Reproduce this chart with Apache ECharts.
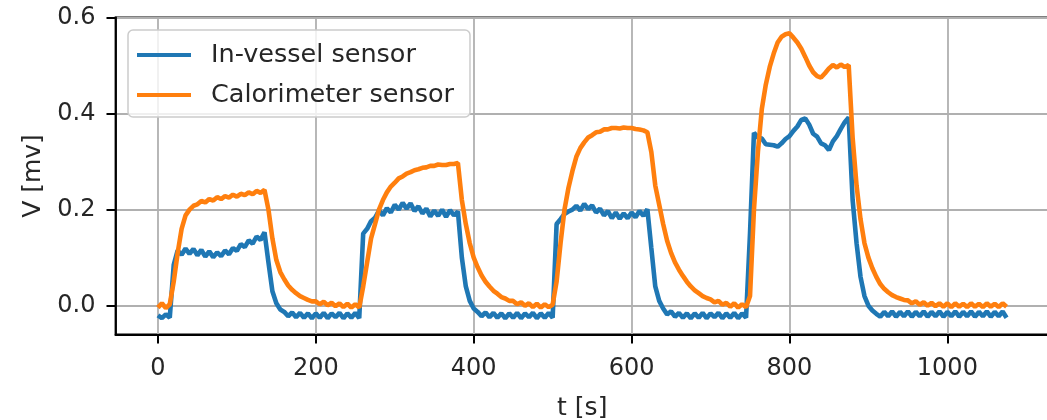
<!DOCTYPE html>
<html><head><meta charset="utf-8">
<script src="https://cdn.jsdelivr.net/npm/echarts@6/dist/echarts.min.js"></script>
<style>html,body{margin:0;padding:0;background:#fff}#c{width:1047px;height:420px}</style>
</head><body><div id="c"></div>
<script>
const time = [
0,5,10,15,20,25,30,35,40,45,50,55,60,65,70,75,80,85,90,95,
100,105,110,115,120,125,130,135,140,145,150,155,160,165,170,175,180,185,190,195,
200,205,210,215,220,225,230,235,240,245,250,255,260,265,270,275,280,285,290,295,
300,305,310,315,320,325,330,335,340,345,350,355,360,365,370,375,380,385,390,395,
400,405,410,415,420,425,430,435,440,445,450,455,460,465,470,475,480,485,490,495,
500,505,510,515,520,525,530,535,540,545,550,555,560,565,570,575,580,585,590,595,
600,605,610,615,620,625,630,635,640,645,650,655,660,665,670,675,680,685,690,695,
700,705,710,715,720,725,730,735,740,745,750,755,760,765,770,775,780,785,790,795,
800,805,810,815,820,825,830,835,840,845,850,855,860,865,870,875,880,885,890,895,
900,905,910,915,920,925,930,935,940,945,950,955,960,965,970,975,980,985,990,995,
1000,1005,1010,1015,1020,1025,1030,1035,1040,1045,1050,1055,1060,1065,1070,1075
];
const inVessel = [
-0.020,-0.026,-0.018,-0.025,0.085,0.115,0.106,0.119,0.108,0.118,
0.105,0.116,0.102,0.113,0.101,0.111,0.103,0.115,0.107,0.120,
0.114,0.128,0.122,0.136,0.129,0.144,0.137,0.153,0.090,0.030,
0.005,-0.008,-0.013,-0.022,-0.014,-0.024,-0.015,-0.025,-0.016,-0.026,
-0.016,-0.025,-0.015,-0.026,-0.016,-0.024,-0.015,-0.026,-0.016,-0.025,
-0.015,-0.026,0.150,0.160,0.176,0.183,0.198,0.188,0.203,0.194,
0.210,0.200,0.214,0.202,0.213,0.197,0.207,0.192,0.202,0.186,
0.198,0.187,0.200,0.185,0.199,0.188,0.196,0.100,0.040,0.010,
-0.006,-0.013,-0.022,-0.014,-0.024,-0.015,-0.025,-0.016,-0.026,-0.016,
-0.025,-0.015,-0.026,-0.016,-0.024,-0.015,-0.026,-0.016,-0.025,-0.015,
-0.025,0.170,0.180,0.191,0.196,0.200,0.208,0.198,0.212,0.201,
0.209,0.194,0.202,0.188,0.197,0.182,0.194,0.181,0.192,0.182,
0.194,0.184,0.197,0.187,0.201,0.120,0.040,0.010,-0.006,-0.018,
-0.012,-0.023,-0.015,-0.025,-0.016,-0.026,-0.016,-0.025,-0.015,-0.026,
-0.016,-0.024,-0.015,-0.026,-0.016,-0.025,-0.015,-0.026,-0.016,-0.025,
0.150,0.360,0.350,0.348,0.336,0.335,0.334,0.331,0.338,0.347,
0.353,0.364,0.373,0.387,0.390,0.377,0.358,0.352,0.338,0.334,
0.324,0.342,0.353,0.368,0.382,0.392,0.220,0.130,0.060,0.020,
0.000,-0.010,-0.017,-0.023,-0.013,-0.022,-0.012,-0.023,-0.013,-0.022,
-0.012,-0.023,-0.013,-0.022,-0.012,-0.023,-0.013,-0.022,-0.012,-0.023,
-0.013,-0.022,-0.012,-0.023,-0.013,-0.022,-0.012,-0.023,-0.013,-0.022,
-0.012,-0.023,-0.013,-0.022,-0.012,-0.025
];
const calorimeter = [
-0.004,0.005,-0.005,0.003,0.050,0.110,0.160,0.188,0.200,0.208,
0.211,0.218,0.215,0.222,0.219,0.226,0.222,0.228,0.225,0.231,
0.227,0.233,0.230,0.236,0.232,0.239,0.235,0.241,0.200,0.140,
0.095,0.070,0.055,0.042,0.033,0.026,0.020,0.016,0.012,0.009,
0.009,0.003,0.008,0.001,0.006,-0.001,0.005,-0.003,0.004,-0.004,
0.003,-0.004,0.040,0.090,0.140,0.170,0.200,0.220,0.236,0.248,
0.256,0.265,0.269,0.275,0.278,0.282,0.284,0.287,0.288,0.291,
0.291,0.294,0.293,0.293,0.295,0.295,0.297,0.220,0.170,0.130,
0.100,0.080,0.063,0.050,0.040,0.031,0.025,0.018,0.015,0.010,
0.010,0.003,0.007,0.000,0.005,-0.003,0.004,-0.004,0.003,-0.003,
0.002,0.050,0.130,0.200,0.245,0.280,0.310,0.328,0.340,0.350,
0.355,0.361,0.362,0.367,0.367,0.370,0.370,0.369,0.371,0.370,
0.370,0.368,0.367,0.365,0.361,0.320,0.250,0.210,0.170,0.135,
0.110,0.090,0.075,0.062,0.050,0.040,0.032,0.026,0.020,0.016,
0.013,0.007,0.010,0.002,0.006,-0.002,0.005,-0.004,0.003,-0.003,
0.020,0.200,0.320,0.410,0.460,0.497,0.525,0.548,0.560,0.565,
0.567,0.558,0.548,0.535,0.518,0.500,0.486,0.478,0.475,0.484,
0.494,0.501,0.496,0.502,0.497,0.501,0.350,0.250,0.180,0.130,
0.100,0.078,0.060,0.045,0.035,0.028,0.022,0.018,0.015,0.012,
0.011,0.005,0.009,0.002,0.007,0.000,0.006,-0.001,0.005,-0.002,
0.005,-0.003,0.005,-0.002,0.004,-0.003,0.005,-0.002,0.004,-0.003,
0.005,-0.002,0.004,-0.003,0.005,-0.002
];
const seriesNames = ['In-vessel sensor', 'Calorimeter sensor'];
const xTicks = [0, 200, 400, 600, 800, 1000];
const yTicks = [0, 0.2, 0.4, 0.6];
const xTitle = 't [s]';
const yTitle = 'V [mv]';

const FONT = 'DejaVu Sans';
const TXT = '#262626';
const chart = echarts.init(document.getElementById('c'), null, {renderer: 'canvas'});
chart.setOption({
  animation: false,
  backgroundColor: '#ffffff',
  grid: {left: 115.5, top: 17.5, right: -2, bottom: 85.5, show: true, outerBoundsMode: 'none',
         borderColor: '#000', borderWidth: 1.8, backgroundColor: 'transparent'},
  legend: {
    orient: 'vertical', left: 128, top: 30,
    itemWidth: 54, itemHeight: 4, icon: 'rect', itemGap: 10,
    padding: [10, 16, 7, 9],
    backgroundColor: 'rgba(255,255,255,0.8)', borderColor: '#cccccc', borderWidth: 1.5, borderRadius: 5,
    textStyle: {fontSize: 25.5, fontFamily: FONT, color: TXT, lineHeight: 30, padding: [0, 0, 0, 15]},
    data: seriesNames
  },
  xAxis: {
    type: 'value', min: -53.75, max: 1128.75,
    name: xTitle, nameLocation: 'middle', nameGap: 61,
    nameTextStyle: {fontSize: 25, fontFamily: FONT, color: TXT},
    axisLine: {show: true, onZero: false, lineStyle: {color: '#000', width: 1.8}},
    axisTick: {show: true, inside: false, customValues: xTicks, length: 9, lineStyle: {color: '#000', width: 2}},
    axisLabel: {customValues: xTicks, margin: 22, fontSize: 24, fontFamily: FONT, color: TXT,
                formatter: v => String(v)},
    splitLine: {show: true, lineStyle: {color: '#b0b0b0', width: 1.8}}
  },
  yAxis: {
    type: 'value', min: -0.06, max: 0.6,
    name: yTitle, nameLocation: 'middle', nameGap: 63,
    nameTextStyle: {fontSize: 25, fontFamily: FONT, color: TXT},
    axisLine: {show: true, onZero: false, lineStyle: {color: '#000', width: 1.8}},
    axisTick: {show: true, inside: false, customValues: yTicks, length: 9, lineStyle: {color: '#000', width: 2}},
    axisLabel: {customValues: yTicks, margin: 20, fontSize: 24, fontFamily: FONT, color: TXT,
                formatter: v => v.toFixed(1)},
    splitLine: {show: true, lineStyle: {color: '#b0b0b0', width: 1.8}}
  },
  series: [
    {name: seriesNames[0], type: 'line', showSymbol: false, color: '#1f77b4',
     lineStyle: {width: 4.6}, data: time.map((t, i) => [t, inVessel[i]])},
    {name: seriesNames[1], type: 'line', showSymbol: false, color: '#ff7f0e',
     lineStyle: {width: 4.6}, data: time.map((t, i) => [t, calorimeter[i]])}
  ]
});
</script>
</body></html>
